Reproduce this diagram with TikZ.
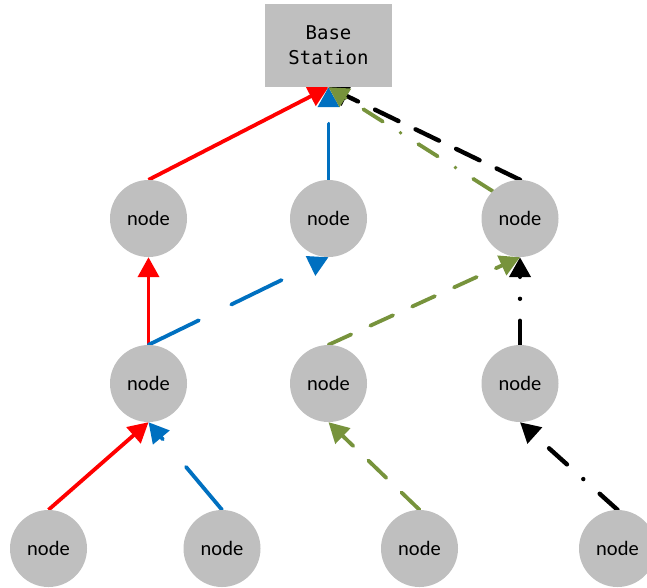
\documentclass[tikz,border=0pt]{standalone}
\usepackage{fontspec}
\setmainfont{Carlito}
\newfontfamily\stationfont{DejaVu Sans Mono}
\usetikzlibrary{arrows.meta}
\pgfdeclarelayer{links}
\pgfsetlayers{links,main}
\definecolor{nodegray}{HTML}{BFBFBF}
\definecolor{linkred}{HTML}{FF0000}
\definecolor{linkblue}{HTML}{0070C0}
\definecolor{linkgreen}{HTML}{77933C}
\begin{document}
\begin{tikzpicture}[x=1pt,y=-1pt,
  sensor/.style={circle,fill=nodegray,minimum size=77pt,inner sep=0pt,
    font=\fontsize{20.5}{24}\selectfont},
  station/.style={rectangle,fill=nodegray,minimum width=127pt,minimum height=83pt,
    inner sep=0pt,align=center,font=\stationfont\fontsize{19}{25}\selectfont},
  link/.style={line width=3.8pt,-{Triangle[length=20pt,width=21pt]}},
  redpath/.style={link,draw=linkred},
  bluepath/.style={link,draw=linkblue,line cap=round,
    dash pattern=on 56pt off 36pt},
  greendash/.style={link,draw=linkgreen,line cap=round,
    dash pattern=on 25pt off 21pt},
  greendashdot/.style={link,draw=linkgreen,line cap=round,
    dash pattern=on 23pt off 21pt on 0pt off 21pt},
  blackdash/.style={link,line width=4.4pt,draw=black,line cap=round,
    dash pattern=on 26pt off 19pt},
  blackdashdot/.style={link,line width=4.4pt,draw=black,line cap=round,
    dash pattern=on 24pt off 22pt on 0pt off 22pt},
]
\useasboundingbox (0,0) rectangle (647,587);

% base station and sensor nodes
\node[station] (bs) at (328.5,45.5) {Base\\Station};

\node[sensor] (a1) at (148.5,218.5) {node};
\node[sensor] (b1) at (328.5,218.5) {node};
\node[sensor] (c1) at (520,218.5) {node};

\node[sensor] (a2) at (148.5,383.5) {node};
\node[sensor] (b2) at (328.5,383.5) {node};
\node[sensor] (c2) at (520,383.5) {node};

\node[sensor] (d1) at (48.5,548.5) {node};
\node[sensor] (d2) at (222,548.5) {node};
\node[sensor] (d3) at (419.5,548.5) {node};
\node[sensor] (d4) at (617.5,548.5) {node};

% routes towards the base station, kept under the nodes
\begin{pgfonlayer}{links}
  % black route
  \draw[blackdashdot] (d4.north) -- (c2.south);
  \draw[blackdashdot] (c2.north) -- (c1.south);
  \draw[blackdash] (c1.north) -- (bs.south);
  % red route
  \draw[redpath] (d1.north) -- (a2.south);
  \draw[redpath] (a2.north) -- (a1.south);
  \draw[redpath] (a1.north) -- (bs.south);
  % blue route
  \draw[bluepath] (d2.north) -- (a2.south);
  \draw[bluepath] (a2.north) -- (b1.south);
  \draw[bluepath] (b1.north) -- (bs.south);
  % green route
  \draw[greendash] (d3.north) -- (b2.south);
  \draw[greendash] (b2.north) -- (c1.south);
  \draw[greendashdot] (c1.north west) -- (bs.south);
\end{pgfonlayer}
\end{tikzpicture}
\end{document}
